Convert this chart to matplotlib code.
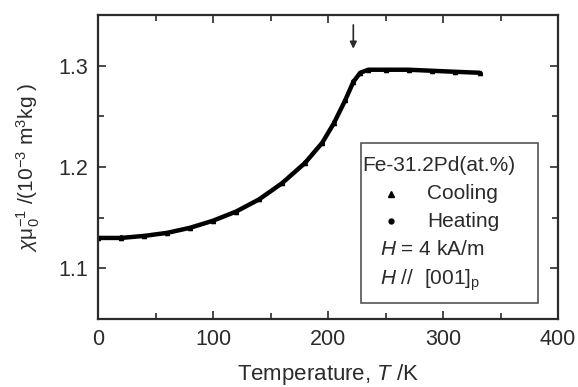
import numpy as np
import matplotlib.pyplot as plt
from matplotlib.patches import Rectangle
from matplotlib.ticker import MultipleLocator

plt.rcParams['font.family'] = ['Liberation Sans', 'DejaVu Sans']
plt.rcParams['mathtext.fontset'] = 'custom'
plt.rcParams['mathtext.rm'] = 'Liberation Sans'
plt.rcParams['mathtext.it'] = 'Liberation Sans:italic'

# values
temp_cool = [0, 20, 40, 60, 80, 100, 120, 140, 160, 180, 195, 205, 215, 222,
             228, 235, 250, 270, 290, 310, 332]
chi_cool = [1.130, 1.130, 1.132, 1.135, 1.140, 1.147, 1.156, 1.168, 1.184,
            1.204, 1.224, 1.243, 1.266, 1.284, 1.293, 1.296, 1.296, 1.296,
            1.295, 1.294, 1.293]
temp_heat = [0, 20, 40, 60, 80, 100, 120, 140, 160, 180, 195, 205, 215, 222,
             228, 235, 250, 270, 290, 310, 332]
chi_heat = [1.130, 1.131, 1.132, 1.135, 1.140, 1.147, 1.156, 1.168, 1.184,
            1.205, 1.224, 1.244, 1.266, 1.285, 1.293, 1.296, 1.296, 1.296,
            1.295, 1.294, 1.293]
t_arrow = 222

ink = '#2b2b2b'
fig = plt.figure(figsize=(5.78, 3.87), dpi=100)
ax = fig.add_axes([0.1696, 0.1757, 0.7958, 0.7855])

ax.plot(temp_cool, chi_cool, '-', color='black', lw=3.2, solid_capstyle='round')
ax.plot(temp_cool, chi_cool, '^', color='black', ms=3)
ax.plot(temp_heat, chi_heat, 'o', color='black', ms=2.5)

ax.annotate('', xy=(t_arrow, 1.314), xytext=(t_arrow, 1.343),
            arrowprops=dict(arrowstyle='-|>', color=ink, lw=1.2,
                            mutation_scale=10))

ax.set_xlim(0, 400)
ax.set_ylim(1.05, 1.35)
ax.xaxis.set_major_locator(MultipleLocator(100))
ax.xaxis.set_minor_locator(MultipleLocator(50))
ax.yaxis.set_major_locator(MultipleLocator(0.1))
ax.yaxis.set_minor_locator(MultipleLocator(0.05))
ax.yaxis.set_major_formatter(plt.FuncFormatter(lambda v, p: f'{v:.1f}'))
ax.tick_params(which='both', direction='in', top=True, right=True,
               colors=ink, labelsize=15.5, width=1.2)
ax.tick_params(which='major', length=6, pad=7)
ax.tick_params(which='minor', length=4)
for s in ax.spines.values():
    s.set_color(ink)
    s.set_linewidth(1.6)

ax.set_xlabel('Temperature, $T$ /K', fontsize=16, color=ink, labelpad=9)
ax.set_ylabel(r'$\chi$μ$_0^{-1}$ /(10$^{-3}$ m$^3$kg )', fontsize=15,
              color=ink, labelpad=12)

# legend box
ax.add_patch(Rectangle((0.572, 0.053), 0.385, 0.526, transform=ax.transAxes,
                       fill=False, edgecolor='#555555', lw=1.2))
fs = 15
ax.text(0.575, 0.505, 'Fe-31.2Pd(at.%)', transform=ax.transAxes,
        fontsize=fs, color=ink, va='center')
ax.plot([0.638], [0.412], '^', color='black', ms=4, transform=ax.transAxes)
ax.text(0.715, 0.412, 'Cooling', transform=ax.transAxes,
        fontsize=fs, color=ink, va='center')
ax.plot([0.638], [0.322], 'o', color='black', ms=3.5, transform=ax.transAxes)
ax.text(0.715, 0.322, 'Heating', transform=ax.transAxes,
        fontsize=fs, color=ink, va='center')
ax.text(0.612, 0.23, '$H$ = 4 kA/m', transform=ax.transAxes,
        fontsize=fs, color=ink, va='center')
ax.text(0.612, 0.128, '$H$ //  [001]$_{\\mathrm{p}}$', transform=ax.transAxes,
        fontsize=fs, color=ink, va='center')

fig.savefig('out.png', dpi=100)
